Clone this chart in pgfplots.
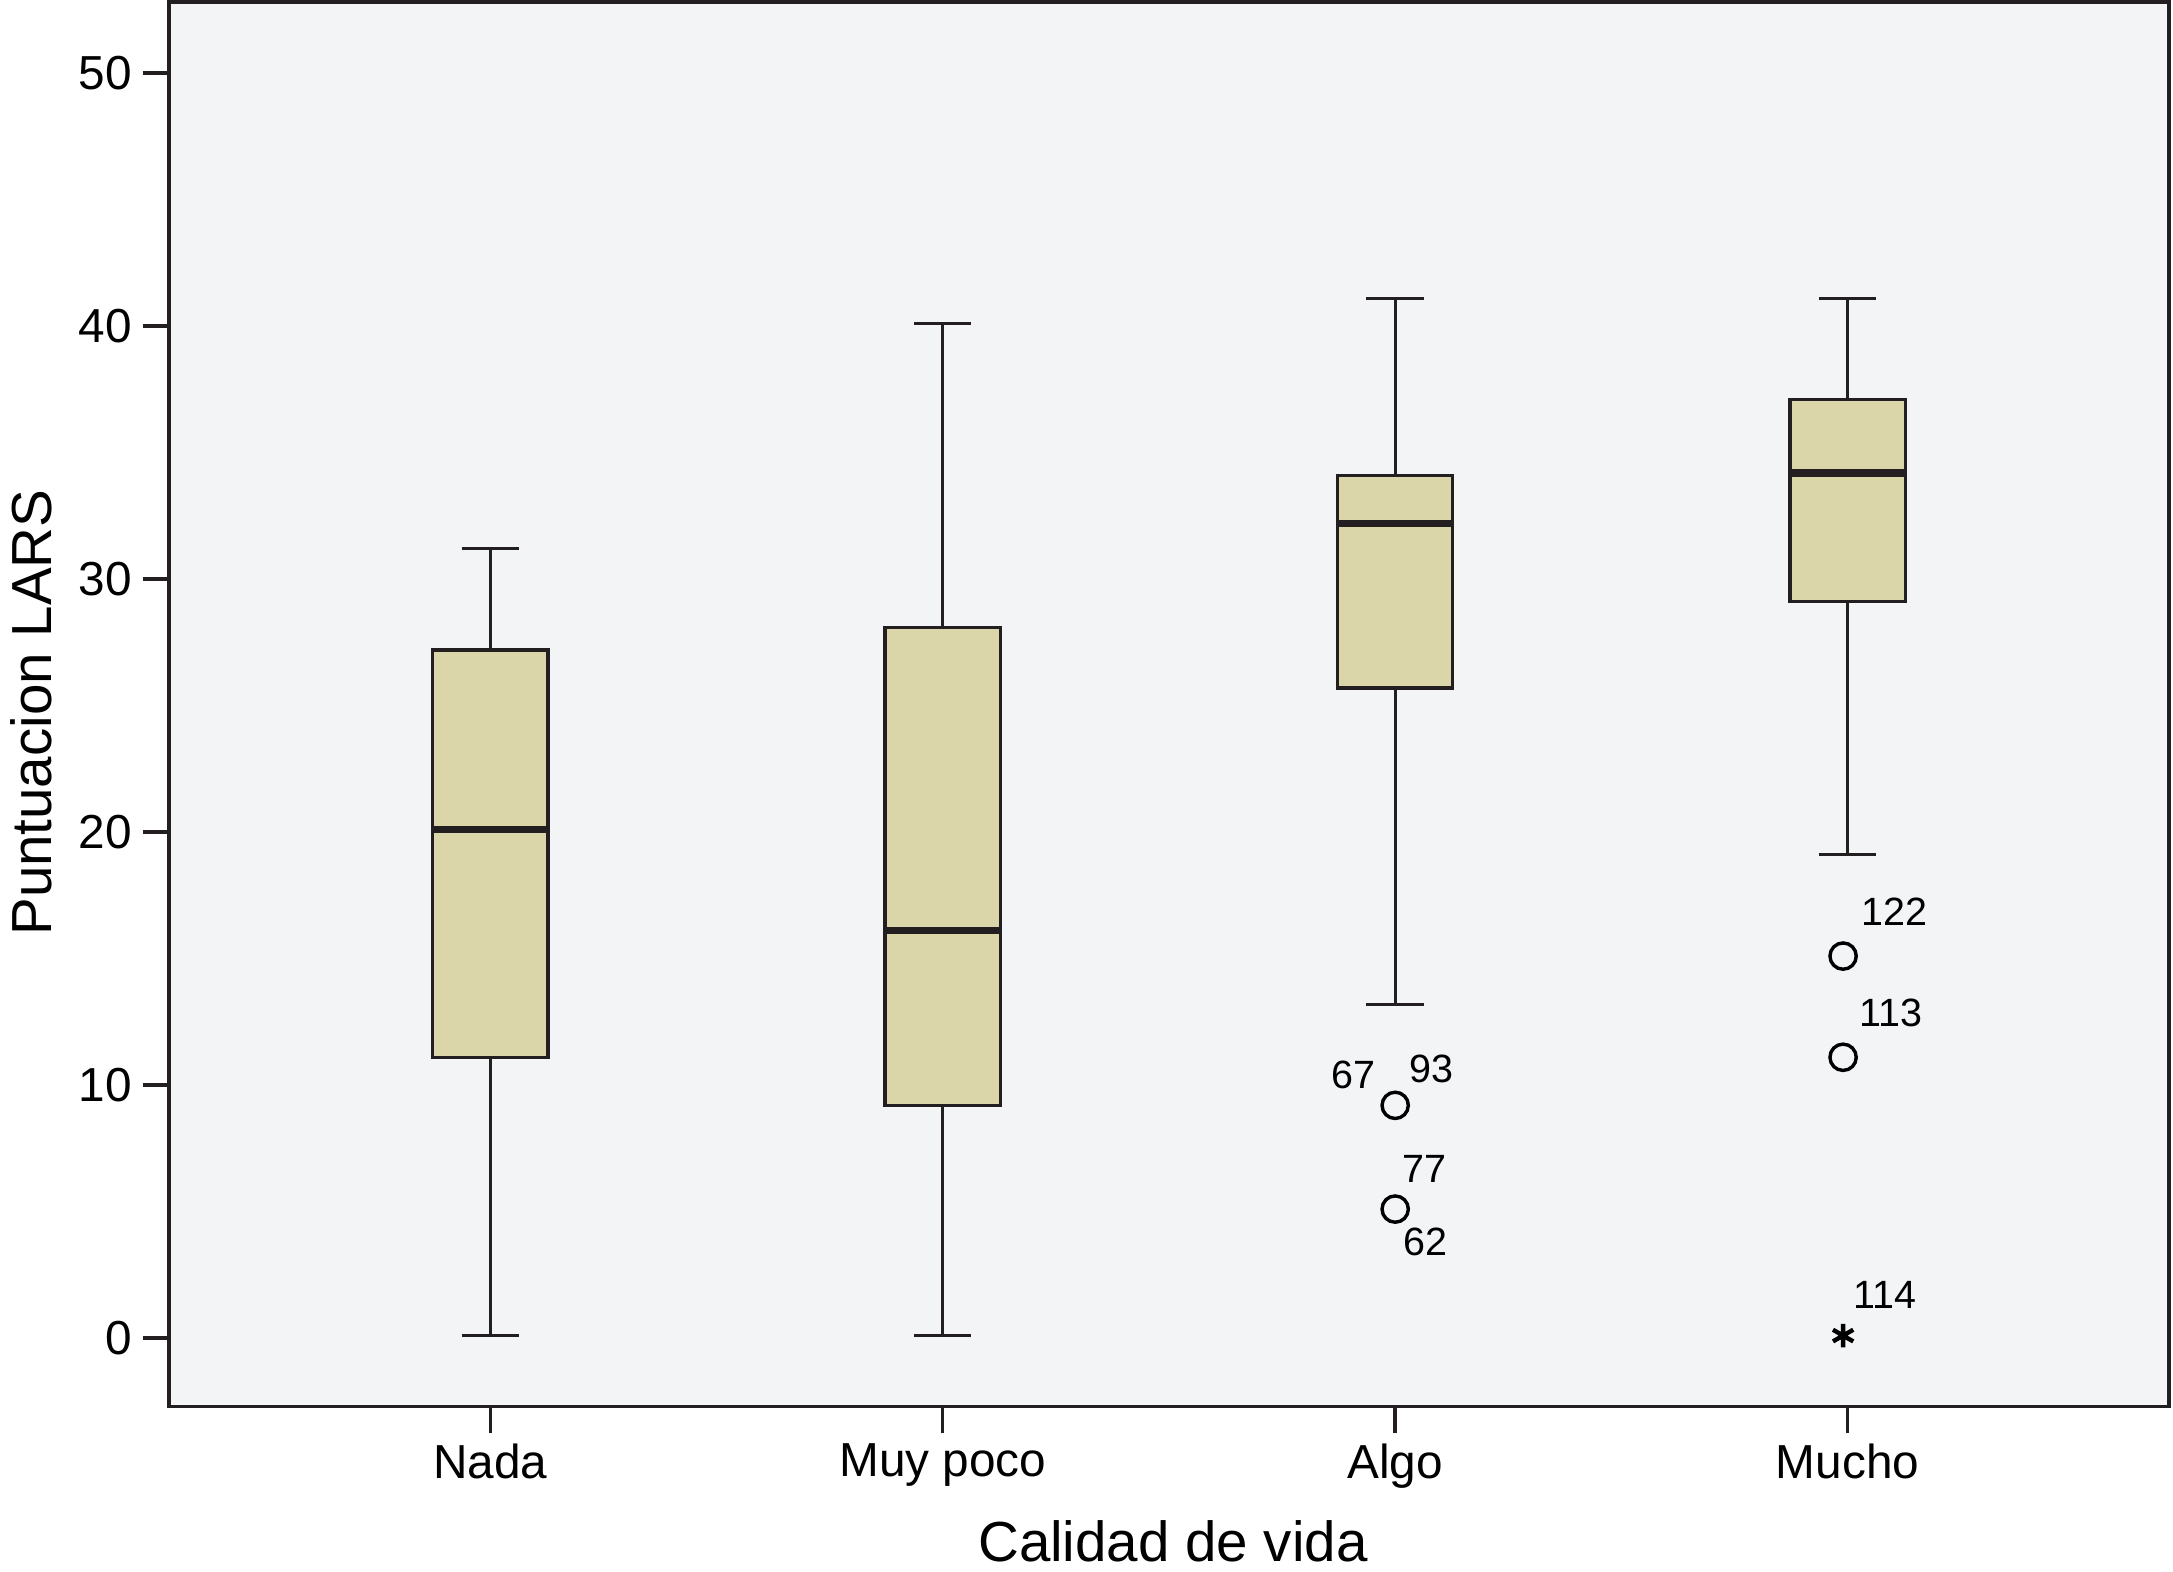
\documentclass[border=0pt]{standalone}
\usepackage{fontspec}
\setmainfont{Liberation Sans}
\usepackage{pgfplots}
\pgfplotsset{compat=1.18}
\usepgfplotslibrary{statistics}
\definecolor{bgcol}{HTML}{F3F4F6}
\definecolor{boxcol}{HTML}{DBD6AA}
\definecolor{ink}{HTML}{231F20}

\begin{document}
\begin{tikzpicture}
\begin{axis}[
  scale only axis, width=14.43cm, height=10.137cm,
  xmin=-0.71, xmax=3.71, ymin=-2.71, ymax=52.82,
  axis background/.style={fill=bgcol},
  axis line style={ink, line width=0.7pt},
  xtick={0,1,2,3}, xticklabels={Nada, Muy poco, Algo, Mucho},
  ytick={0,10,...,50},
  tick pos=left, tick align=outside, major tick length=0.19cm,
  tick style={ink, line width=0.7pt},
  ticklabel style={font=\fontsize{9.8}{11}\selectfont, inner sep=2pt},
  /pgf/number format/assume math mode=true,
  ylabel={Puntuacion LARS}, xlabel={Calidad de vida},
  label style={font=\fontsize{11.6}{13}\selectfont},
  ylabel style={at={(axis description cs:-0.069,0.494)}, anchor=center},
  xlabel style={at={(axis description cs:0.502,-0.096)}, anchor=center},
  boxplot/draw direction=y,
  boxplot/box extend=0.255,
  boxplot/whisker extend=0.127,
  boxplot/every median/.style={line width=1.5pt},
]
% Nada
\addplot[draw=ink, fill=boxcol, line width=0.65pt, boxplot prepared={
  lower whisker=0.1, lower quartile=11.1, median=20.1,
  upper quartile=27.2, upper whisker=31.2, draw position=0}] coordinates {};
% Muy poco
\addplot[draw=ink, fill=boxcol, line width=0.65pt, boxplot prepared={
  lower whisker=0.1, lower quartile=9.2, median=16.1,
  upper quartile=28.1, upper whisker=40.1, draw position=1}] coordinates {};
% Algo
\addplot[draw=ink, fill=boxcol, line width=0.65pt, boxplot prepared={
  lower whisker=13.2, lower quartile=25.7, median=32.2,
  upper quartile=34.1, upper whisker=41.1, draw position=2}] coordinates {};
% Mucho
\addplot[draw=ink, fill=boxcol, line width=0.65pt, boxplot prepared={
  lower whisker=19.1, lower quartile=29.1, median=34.2,
  upper quartile=37.1, upper whisker=41.1, draw position=3}] coordinates {};

% outliers
\addplot[only marks, mark=o, mark size=2.7pt, black, mark options={line width=0.7pt}]
  coordinates {(2,9.2) (2,5.1) (2.99,15.1) (2.99,11.1)};
\addplot[only marks, mark=asterisk, mark size=2.4pt, black, mark options={line width=0.9pt}]
  coordinates {(2.99,0.1)};

\begin{scope}[every node/.style={font=\fontsize{8.1}{9}\selectfont, inner sep=0pt}]
\node at (axis cs:1.908,10.4) {67};
\node at (axis cs:2.08,10.65) {93};
\node at (axis cs:2.064,6.7) {77};
\node at (axis cs:2.067,3.8) {62};
\node at (axis cs:3.104,16.85) {122};
\node at (axis cs:3.095,12.85) {113};
\node at (axis cs:3.083,1.7) {114};
\end{scope}

\coordinate (sw) at (rel axis cs:0,0);
\coordinate (ne) at (rel axis cs:1,1);
\end{axis}
\pgfresetboundingbox
\path ([xshift=-1.22cm,yshift=-1.193cm]sw) rectangle ([xshift=0.03cm,yshift=0.013cm]ne);
\end{tikzpicture}
\end{document}
